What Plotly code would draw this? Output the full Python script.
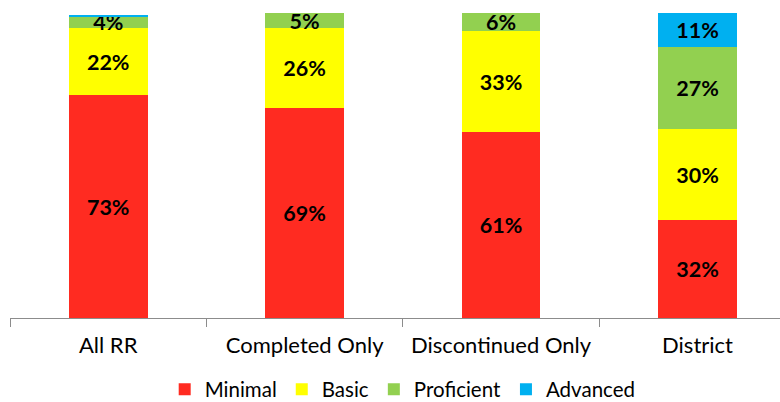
import plotly.graph_objects as go

categories = ["All RR", "Completed Only", "Discontinued Only", "District"]
minimal = [73, 69, 61, 32]
basic = [22, 26, 33, 30]
proficient = [4, 5, 6, 27]
advanced = [0.4, 0.4, 0.4, 11]
advanced_labels = ["", "", "", "11%"]

series = [
    ("Minimal", minimal, "#FF2B21", [f"{v}%" for v in minimal]),
    ("Basic", basic, "#FFFF00", [f"{v}%" for v in basic]),
    ("Proficient", proficient, "#92D050", [f"{v}%" for v in proficient]),
    ("Advanced", advanced, "#00B0F0", advanced_labels),
]

FONT = "Lato"
xpos = list(range(len(categories)))
fig = go.Figure()
for name, vals, color, labels in series:
    fig.add_trace(go.Bar(
        x=xpos, y=vals, name=name, width=0.4,
        marker=dict(color=color, line=dict(width=0)),
        text=labels, textposition="inside", insidetextanchor="middle",
        textangle=0,
        textfont=dict(family=FONT, size=21.5, color="black", weight="bold"),
    ))

fig.update_layout(
    barmode="stack",
    width=780, height=402,
    margin=dict(l=10, r=0, t=13, b=84, autoexpand=False),
    paper_bgcolor="white", plot_bgcolor="white",
    showlegend=True,
    legend=dict(orientation="h", x=0.51, xanchor="center", y=-0.234, yanchor="middle",
                font=dict(family=FONT, size=20.5, color="black"),
                itemwidth=30, traceorder="normal"),
    uniformtext=dict(minsize=21.5, mode="show"),
    font=dict(family=FONT),
)
fig.update_xaxes(
    range=[-0.5, 3.42], automargin=False,
    tickvals=xpos, ticktext=categories, ticks="",
    tickfont=dict(family=FONT, size=22, color="black"),
    ticklabelstandoff=8,
    showline=True, linecolor="#8C8C8C", linewidth=1,
    showgrid=False, zeroline=False,
    minor=dict(ticks="outside", ticklen=8, tick0=-0.5, dtick=1, tickcolor="#8C8C8C", showgrid=False),
)
fig.update_yaxes(range=[0, 100], visible=False, showgrid=False, automargin=False)

fig.write_html(
    "out.html",
    config={"displayModeBar": False},
    post_script="document.body.style.margin='0';document.body.style.overflow='hidden';",
)
